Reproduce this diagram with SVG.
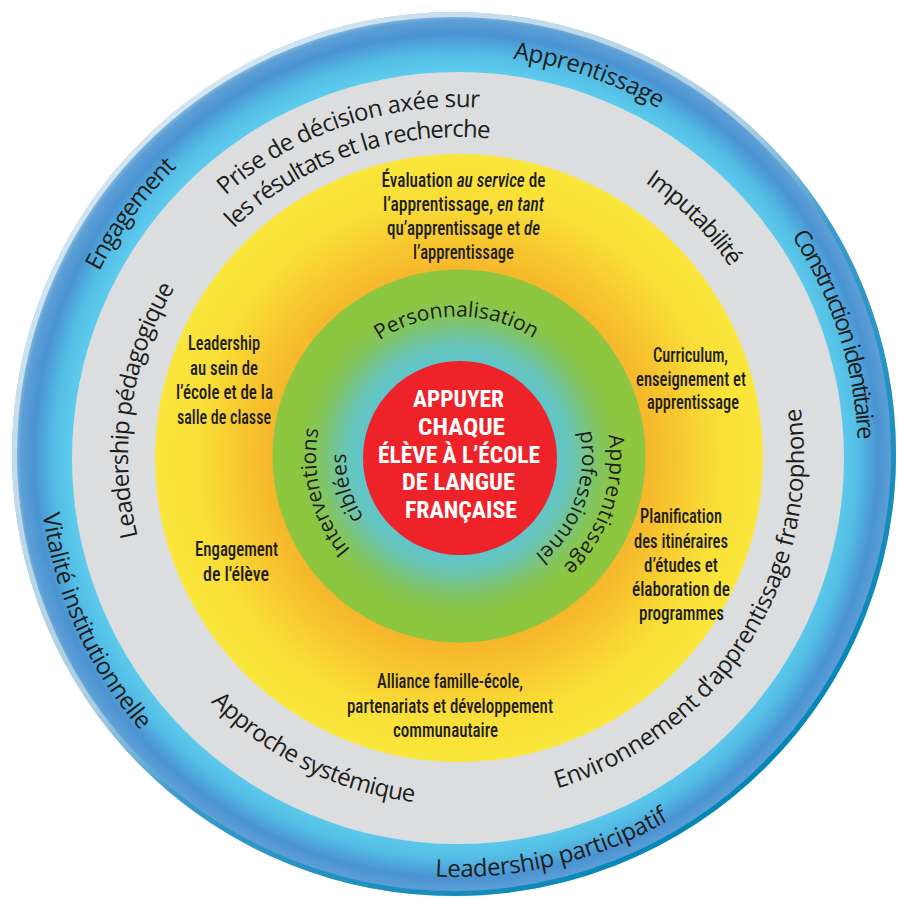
<svg xmlns="http://www.w3.org/2000/svg" xmlns:xlink="http://www.w3.org/1999/xlink" width="898" height="898" viewBox="0 0 898 898">
<style>
.lab{font-family:"Open Sans","Noto Sans","Liberation Sans",sans-serif;font-size:24px;fill:#1d1d1b}
.glab{font-family:"Open Sans","Noto Sans","Liberation Sans",sans-serif;font-size:21px;fill:#1d1d1b}
.yt{font-family:"Roboto Condensed","Liberation Sans Narrow","Roboto","Liberation Sans",sans-serif;font-size:20px;font-weight:500;fill:#1d1d1b;text-anchor:middle}
.ct{font-family:"Roboto Condensed","Liberation Sans Narrow","Roboto","Liberation Sans",sans-serif;font-size:24px;font-weight:700;fill:#ffffff;text-anchor:middle}
.it{font-style:italic}
</style>
<defs>
<radialGradient id="gBlue" gradientUnits="userSpaceOnUse" cx="456" cy="456" r="442">
<stop offset="0.87" stop-color="#5ccbec"/>
<stop offset="0.91" stop-color="#54bde6"/>
<stop offset="0.955" stop-color="#4a93d2"/>
<stop offset="0.985" stop-color="#5d9fd6"/>
<stop offset="1" stop-color="#8fc0de"/>
</radialGradient>
<linearGradient id="gRim" x1="0.15" y1="0.1" x2="0.85" y2="0.9">
<stop offset="0" stop-color="#d6e8f1"/>
<stop offset="0.45" stop-color="#a9cde2"/>
<stop offset="0.58" stop-color="#3c9bcb"/>
<stop offset="1" stop-color="#0085b5"/>
</linearGradient>
<radialGradient id="gYellow" gradientUnits="userSpaceOnUse" cx="459" cy="458" r="304">
<stop offset="0.6" stop-color="#f5b42b"/>
<stop offset="0.72" stop-color="#f7c72f"/>
<stop offset="0.86" stop-color="#f9df37"/>
<stop offset="1" stop-color="#fae73c"/>
</radialGradient>
<radialGradient id="gGreen" gradientUnits="userSpaceOnUse" cx="459" cy="457" r="187">
<stop offset="0.5" stop-color="#5ec6cf"/>
<stop offset="0.6" stop-color="#69c5b9"/>
<stop offset="0.76" stop-color="#84c55a"/>
<stop offset="0.86" stop-color="#8cc63f"/>
<stop offset="1" stop-color="#8dc63f"/>
</radialGradient>
<path id="pApp" d="M106.05,262.71 A402,402 0 0 1 855.16,519.19"/>
<path id="pCons" d="M402.33,60.89 A400,400 0 0 1 645.79,810.18"/>
<path id="pEng" d="M164.47,734.59 A404,404 0 0 1 638.9,95.76"/>
<path id="pVit" d="M221.88,110.86 A419,419 0 0 0 561.49,863.02"/>
<path id="pLpart" d="M72.83,624.48 A420,420 0 0 0 877.22,431.36"/>
<path id="pPrise1" d="M112.36,512.06 A350,350 0 0 1 763.9,287.02"/>
<path id="pPrise2" d="M142.25,508.99 A320,320 0 0 1 736.87,300.12"/>
<path id="pImp" d="M266.15,186.04 A332,332 0 0 1 730.95,646.0"/>
<path id="pLped" d="M353.56,770.04 A330,330 0 0 1 449.07,127.12"/>
<path id="pEnv" d="M325.03,776.43 A346,346 0 0 0 692.2,202.31"/>
<path id="pAppr" d="M123.9,359.62 A348,348 0 0 0 738.64,662.78"/>
<path id="pPers" d="M319.37,434.17 A140.5,140.5 0 0 1 596.08,431.04"/>
<path id="pInt" d="M469.76,598.51 A142,142 0 0 1 398.55,328.04"/>
<path id="pCib" d="M468.74,568.48 A112,112 0 0 1 409.78,355.91"/>
<path id="pAppG" d="M531.69,324.06 A152,152 0 0 1 434.22,607.13"/>
<path id="pProf" d="M520,349.61 A124,124 0 0 1 436.47,579.12"/>
</defs>

<g id="ring-outer">
<circle cx="454" cy="454" r="442" fill="url(#gBlue)"/>
<circle cx="454" cy="454" r="439.5" fill="none" stroke="url(#gRim)" stroke-width="5"/>
</g>
<g id="ring-grey"><circle cx="458" cy="458" r="386" fill="#dcdddf"/></g>
<g id="ring-yellow"><circle cx="459" cy="458" r="304" fill="url(#gYellow)"/></g>
<g id="ring-green"><circle cx="459" cy="456" r="186.5" fill="url(#gGreen)"/></g>
<g id="core"><circle cx="460" cy="458" r="97" fill="#ee2329"/></g>

<g id="outer-labels">
<g id="l-apprentissage"><text class="lab" textLength="155" lengthAdjust="spacing"><textPath href="#pApp" xlink:href="#pApp" startOffset="50%" text-anchor="middle">Apprentissage</textPath></text></g>
<g id="l-construction"><text class="lab" textLength="217" lengthAdjust="spacing"><textPath href="#pCons" xlink:href="#pCons" startOffset="50%" text-anchor="middle">Construction identitaire</textPath></text></g>
<g id="l-engagement"><text class="lab" textLength="131" lengthAdjust="spacing"><textPath href="#pEng" xlink:href="#pEng" startOffset="50%" text-anchor="middle">Engagement</textPath></text></g>
<g id="l-vitalite"><text class="lab" textLength="241" lengthAdjust="spacing"><textPath href="#pVit" xlink:href="#pVit" startOffset="50%" text-anchor="middle">Vitalité institutionnelle</textPath></text></g>
<g id="l-leadpart"><text class="lab" textLength="244" lengthAdjust="spacing"><textPath href="#pLpart" xlink:href="#pLpart" startOffset="50%" text-anchor="middle">Leadership participatif</textPath></text></g>
</g>

<g id="grey-labels">
<g id="l-prise">
<text class="lab" textLength="276" lengthAdjust="spacing"><textPath href="#pPrise1" xlink:href="#pPrise1" startOffset="50%" text-anchor="middle">Prise de décision axée sur</textPath></text>
<text class="lab" textLength="280" lengthAdjust="spacing"><textPath href="#pPrise2" xlink:href="#pPrise2" startOffset="50%" text-anchor="middle">les résultats et la recherche</textPath></text>
</g>
<g id="l-imputabilite"><text class="lab" textLength="121" lengthAdjust="spacing"><textPath href="#pImp" xlink:href="#pImp" startOffset="50%" text-anchor="middle">Imputabilité</textPath></text></g>
<g id="l-leadped"><text class="lab" textLength="258" lengthAdjust="spacing"><textPath href="#pLped" xlink:href="#pLped" startOffset="50%" text-anchor="middle">Leadership pédagogique</textPath></text></g>
<g id="l-environnement"><text class="lab" textLength="492" lengthAdjust="spacing"><textPath href="#pEnv" xlink:href="#pEnv" startOffset="50%" text-anchor="middle">Environnement d’apprentissage francophone</textPath></text></g>
<g id="l-approche"><text class="lab" textLength="231" lengthAdjust="spacing"><textPath href="#pAppr" xlink:href="#pAppr" startOffset="50%" text-anchor="middle">Approche systémique</textPath></text></g>
</g>

<g id="green-labels">
<g id="l-personnalisation"><text class="glab" textLength="163" lengthAdjust="spacing"><textPath href="#pPers" xlink:href="#pPers" startOffset="50%" text-anchor="middle">Personnalisation</textPath></text></g>
<g id="l-interventions">
<text class="glab" textLength="129" lengthAdjust="spacing"><textPath href="#pInt" xlink:href="#pInt" startOffset="50%" text-anchor="middle">Interventions</textPath></text>
<text class="glab" textLength="68" lengthAdjust="spacing"><textPath href="#pCib" xlink:href="#pCib" startOffset="50%" text-anchor="middle">ciblées</textPath></text>
</g>
<g id="l-apprpro">
<text class="glab" textLength="145" lengthAdjust="spacing"><textPath href="#pAppG" xlink:href="#pAppG" startOffset="50%" text-anchor="middle">Apprentissage</textPath></text>
<text class="glab" textLength="137" lengthAdjust="spacing"><textPath href="#pProf" xlink:href="#pProf" startOffset="50%" text-anchor="middle">professionnel</textPath></text>
</g>
</g>

<g id="yellow-labels">
<g id="t-evaluation">
<text class="yt" x="463.5" y="187" textLength="164" lengthAdjust="spacingAndGlyphs">Évaluation <tspan class="it">au service</tspan> de</text>
<text class="yt" x="463.5" y="211" textLength="161" lengthAdjust="spacingAndGlyphs">l’apprentissage, <tspan class="it">en tant</tspan></text>
<text class="yt" x="463.5" y="235" textLength="153" lengthAdjust="spacingAndGlyphs">qu’apprentissage et <tspan class="it">de</tspan></text>
<text class="yt" x="463.5" y="259" textLength="101" lengthAdjust="spacingAndGlyphs">l’apprentissage</text>
</g>
<g id="t-leadership">
<text class="yt" x="224" y="350" textLength="72" lengthAdjust="spacingAndGlyphs">Leadership</text>
<text class="yt" x="224" y="374.5" textLength="68" lengthAdjust="spacingAndGlyphs">au sein de</text>
<text class="yt" x="224.5" y="399" textLength="97" lengthAdjust="spacingAndGlyphs">l’école et de la</text>
<text class="yt" x="224" y="423.5" textLength="94" lengthAdjust="spacingAndGlyphs">salle de classe</text>
</g>
<g id="t-engagement">
<text class="yt" x="236.5" y="556" textLength="83" lengthAdjust="spacingAndGlyphs">Engagement</text>
<text class="yt" x="236" y="581" textLength="66" lengthAdjust="spacingAndGlyphs">de l'élève</text>
</g>
<g id="t-curriculum">
<text class="yt" x="690.5" y="362" textLength="75" lengthAdjust="spacingAndGlyphs">Curriculum,</text>
<text class="yt" x="691" y="385.5" textLength="110" lengthAdjust="spacingAndGlyphs">enseignement et</text>
<text class="yt" x="693" y="409" textLength="92" lengthAdjust="spacingAndGlyphs">apprentissage</text>
</g>
<g id="t-planification">
<text class="yt" x="681" y="523" textLength="82" lengthAdjust="spacingAndGlyphs">Planification</text>
<text class="yt" x="681" y="547.5" textLength="94" lengthAdjust="spacingAndGlyphs">des itinéraires</text>
<text class="yt" x="681" y="571.5" textLength="74" lengthAdjust="spacingAndGlyphs">d’études et</text>
<text class="yt" x="681" y="596" textLength="98" lengthAdjust="spacingAndGlyphs">élaboration de</text>
<text class="yt" x="681.5" y="620" textLength="85" lengthAdjust="spacingAndGlyphs">programmes</text>
</g>
<g id="t-alliance">
<text class="yt" x="450" y="688" textLength="146" lengthAdjust="spacingAndGlyphs">Alliance famille-école,</text>
<text class="yt" x="450" y="713" textLength="206" lengthAdjust="spacingAndGlyphs">partenariats et développement</text>
<text class="yt" x="445.5" y="736.5" textLength="105" lengthAdjust="spacingAndGlyphs">communautaire</text>
</g>
</g>

<g id="t-center">
<text class="ct" x="458.5" y="407" textLength="91" lengthAdjust="spacingAndGlyphs">APPUYER</text>
<text class="ct" x="461.5" y="435" textLength="87" lengthAdjust="spacingAndGlyphs">CHAQUE</text>
<text class="ct" x="459" y="463" textLength="162" lengthAdjust="spacingAndGlyphs">ÉLÈVE À L’ÉCOLE</text>
<text class="ct" x="458.5" y="490" textLength="113" lengthAdjust="spacingAndGlyphs">DE LANGUE</text>
<text class="ct" x="461" y="518" textLength="112" lengthAdjust="spacingAndGlyphs">FRANÇAISE</text>
</g>
</svg>
